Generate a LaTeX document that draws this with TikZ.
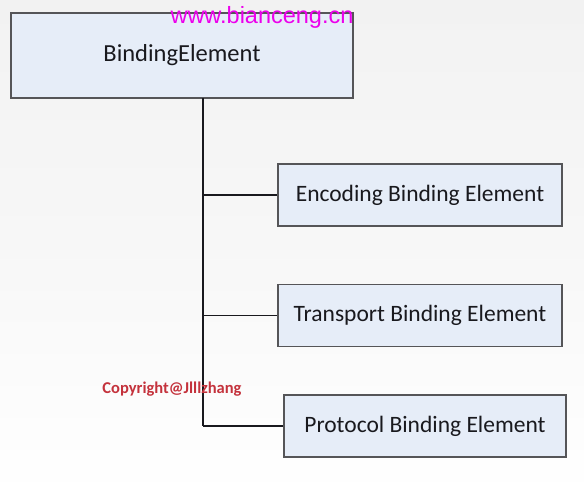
\documentclass[tikz,border=0pt]{standalone}
\usepackage{fontspec}
\setmainfont{Carlito}
\newfontfamily\markfont{Liberation Sans}
\usepackage{tikz}
\usetikzlibrary{positioning, calc}
\definecolor{bindFill}{RGB}{230,237,248}
\definecolor{bindLine}{RGB}{85,85,88}
\definecolor{bindInk}{RGB}{25,25,30}
\definecolor{markMagenta}{RGB}{236,0,236}
\definecolor{copyRed}{RGB}{196,50,60}
\definecolor{paperTop}{RGB}{242,242,242}

\begin{document}
\begin{tikzpicture}[x=1pt, y=-1pt,
      elem/.style={draw=bindLine, line width=1.3pt, fill=bindFill, text=bindInk, inner sep=0pt},
      child/.style={elem, minimum width=284pt, minimum height=62pt, font=\fontsize{23.5}{27}\selectfont},
      link/.style={draw=bindInk, line width=1.2pt}
    ]
    % background, light grey fading to white
    \shade[top color=paperTop, bottom color=white, middle color=paperTop!60] (0,0) rectangle (584,497);
    \useasboundingbox (0,0) rectangle (584,497);

    \node[elem, minimum width=342pt, minimum height=85pt, font=\fontsize{24.5}{28}\selectfont] (root) at (182,55.5) {BindingElement};
    \node[child] (enc) at (420,195) {Encoding Binding Element};
    \node[child] (trans) at (420,315.5) {Transport Binding Element};
    \node[child, minimum width=282pt] (prot) at (425,426) {Protocol Binding Element};

    % trunk and branches
    \coordinate (top) at (203,98);
    \draw[link] (top) -- (top |- prot.west);
    \foreach \kid in {enc, trans, prot} {
      \draw[link] (top |- \kid.west) -- (\kid.west);
    }

    \node[font=\markfont\fontsize{23.5}{26}\selectfont, text=markMagenta, inner sep=0pt] (mark) at (262,17) {www.bianceng.cn};
    \node[font=\bfseries\fontsize{16.5}{19}\selectfont, text=copyRed, inner sep=0pt] (copy) at (172,389) {Copyright@Jlllzhang};
  \end{tikzpicture}
\end{document}
